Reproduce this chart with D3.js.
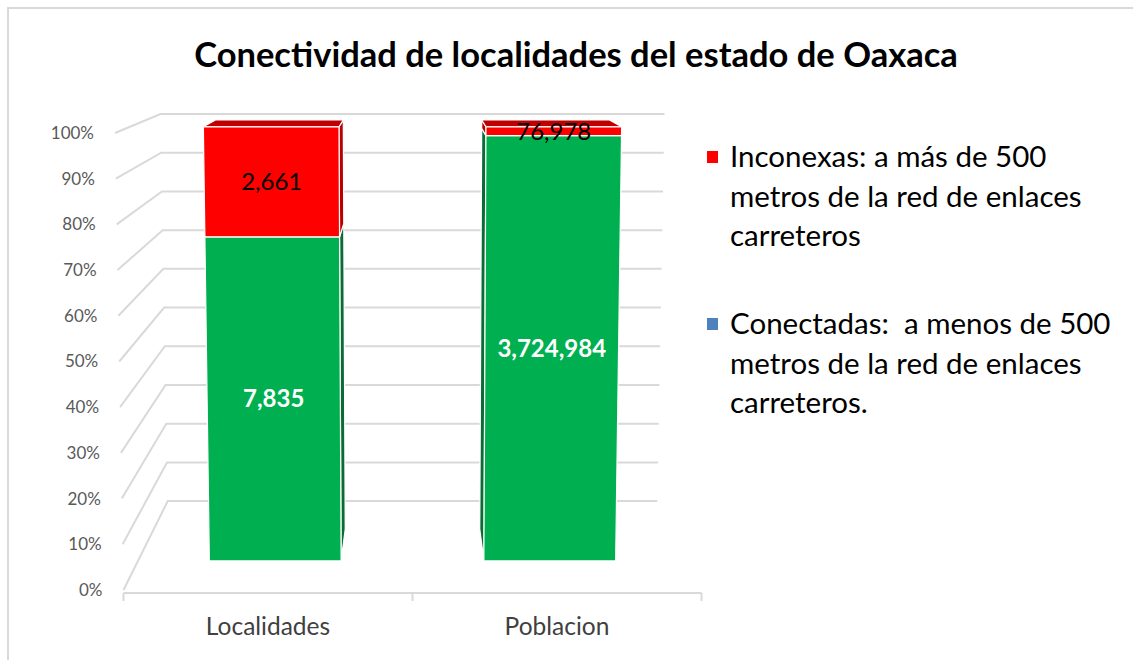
<!DOCTYPE html>
<html>
<head>
<meta charset="utf-8">
<script src="https://cdn.jsdelivr.net/npm/d3@7"></script>
<style>
  body { margin: 0; background: #fff; }
  svg { display: block; font-family: Lato, "Open Sans", sans-serif; }
</style>
</head>
<body>
<div id="chart"></div>
<script>
const categories = ["Localidades", "Poblacion"];
const conectadas = [7835, 3724984];
const inconexas = [2661, 76978];
const percentTicks = [0, 0.1, 0.2, 0.3, 0.4, 0.5, 0.6, 0.7, 0.8, 0.9, 1];
const legendInconexas = ["Inconexas: a más de 500", "metros de la red de enlaces", "carreteros"];
const legendConectadas = ["Conectadas:  a menos de 500", "metros de la red de enlaces", "carreteros."];
const titleText = "Conectividad de localidades del estado de Oaxaca";

const width = 1133, height = 660;
const gridColor = "#d9d9d9";

const series = [
  { key: "conectadas", front: "#00b050", side: "#0b6b34", top: "#008a3e", label: "#fff", bold: true },
  { key: "inconexas", front: "#ff0000", side: "#b80000", top: "#c00000", label: "#000", bold: false },
];

const table = categories.map((c, i) => ({
  category: c,
  conectadas: conectadas[i],
  inconexas: inconexas[i],
}));
const stacked = d3.stack()
  .keys(series.map((d) => d.key))
  .offset(d3.stackOffsetExpand)(table);

// front plane: u across categories, p = share
const x = d3.scaleBand().domain(categories).range([0, 1])
  .paddingInner(0.52).paddingOuter(0.26);
const y = d3.scaleLinear().domain([0, 1]).range([590, 133]);
const halfW = d3.scaleLinear().domain([0, 1]).range([289, 297.5]);
const depth = d3.scaleLinear().domain([0, 1]).range([1, 0.847]);
const cx = 412.5;
const vanish = [412.5, 9];
const barDepth = [0.327, 0.686];

function project(u, p, z) {
  const fx = cx + (u - 0.5) * 2 * halfW(p);
  const fy = y(p);
  const s = depth(z);
  return [vanish[0] + (fx - vanish[0]) * s, vanish[1] + (fy - vanish[1]) * s];
}
const poly = (pts) => "M" + pts.map((p) => p.join(",")).join("L") + "Z";

const svg = d3.select("#chart").append("svg")
  .attr("width", width).attr("height", height)
  .attr("viewBox", [0, 0, width, height]);

// frame (top and left edges only are in view)
svg.append("path")
  .attr("d", `M8,${height}V8H${width}`)
  .attr("fill", "none").attr("stroke", gridColor).attr("stroke-width", 2);

svg.append("text")
  .attr("x", 576).attr("y", 67)
  .attr("text-anchor", "middle")
  .attr("font-weight", 700).attr("font-size", 34.5)
  .attr("fill", "#000")
  .text(titleText);

// walls gridlines
const gGrid = svg.append("g")
  .attr("fill", "none").attr("stroke", gridColor).attr("stroke-width", 2);
gGrid.selectAll("path").data(percentTicks).join("path")
  .attr("d", (p) => "M" + [project(0, p, 0), project(0, p, 1), project(1, p, 1)]
    .map((q) => q.join(",")).join("L"));

svg.append("g").selectAll("text").data(percentTicks).join("text")
  .attr("x", (p) => project(0, p, 0)[0] - 21)
  .attr("y", (p) => project(0, p, 0)[1])
  .attr("dy", "0.35em")
  .attr("text-anchor", "end")
  .attr("font-size", 17).attr("fill", "#595959")
  .text(d3.format(".0%"));

// category axis
const axisOff = 3;
const a0 = project(0, 0, 0), a1 = project(1, 0, 0);
const gAxis = svg.append("g").attr("stroke", gridColor).attr("stroke-width", 2);
gAxis.append("line")
  .attr("x1", a0[0]).attr("x2", a1[0])
  .attr("y1", a0[1] + axisOff).attr("y2", a1[1] + axisOff);
gAxis.selectAll(".tick").data([0, 0.5, 1]).join("line")
  .attr("class", "tick")
  .attr("x1", (u) => project(u, 0, 0)[0]).attr("x2", (u) => project(u, 0, 0)[0])
  .attr("y1", a0[1] + axisOff).attr("y2", a0[1] + axisOff + 8);

svg.append("g").selectAll("text").data(categories).join("text")
  .attr("x", (c) => project(x(c) + x.bandwidth() / 2, 0, 0)[0])
  .attr("y", a0[1] + 36)
  .attr("dy", "0.35em")
  .attr("text-anchor", "middle")
  .attr("font-size", 24.5).attr("fill", "#404040")
  .text((c) => c);

// bars
const gBars = svg.append("g").attr("stroke", "#fff").attr("stroke-width", 1.2)
  .attr("stroke-linejoin", "round");
const [zF, zB] = barDepth;
stacked.forEach((layer, li) => {
  const s = series[li];
  layer.forEach((d, i) => {
    const c = categories[i];
    const u0 = x(c), u1 = x(c) + x.bandwidth();
    const [p0, p1] = d;
    const sideU = (u0 + u1) / 2 < 0.5 ? u1 : u0;
    gBars.append("path")
      .attr("d", poly([project(sideU, p0, zF), project(sideU, p1, zF), project(sideU, p1, zB), project(sideU, p0, zB)]))
      .attr("fill", s.side);
    if (li === stacked.length - 1) {
      gBars.append("path")
        .attr("d", poly([project(u0, p1, zF), project(u1, p1, zF), project(u1, p1, zB), project(u0, p1, zB)]))
        .attr("fill", s.top);
    }
    gBars.append("path")
      .attr("d", poly([project(u0, p0, zF), project(u1, p0, zF), project(u1, p1, zF), project(u0, p1, zF)]))
      .attr("fill", s.front);
  });
});

// data labels
const gLabels = svg.append("g").attr("text-anchor", "middle").attr("font-size", 24);
stacked.forEach((layer, li) => {
  const s = series[li];
  gLabels.selectAll(null).data(layer).join("text")
    .attr("x", (d) => project(x(d.data.category) + x.bandwidth() / 2, (d[0] + d[1]) / 2, zF)[0])
    .attr("y", (d) => project(x(d.data.category) + x.bandwidth() / 2, (d[0] + d[1]) / 2, zF)[1])
    .attr("dy", "0.35em")
    .attr("fill", s.label)
    .attr("font-weight", s.bold ? 700 : 400)
    .text((d) => d3.format(",")(d.data[s.key]));
});

// legend
const legendItems = [
  { lines: legendInconexas, color: "#ff0000", y: 157 },
  { lines: legendConectadas, color: "#4f81bd", y: 324 },
];
const gLegend = svg.append("g").selectAll("g").data(legendItems).join("g")
  .attr("transform", (d) => `translate(707,${d.y})`);
gLegend.append("rect")
  .attr("x", 0).attr("y", -6).attr("width", 11).attr("height", 12)
  .attr("fill", (d) => d.color);
gLegend.append("text")
  .attr("font-size", 29.5).attr("fill", "#000")
  .style("white-space", "pre")
  .selectAll("tspan").data((d) => d.lines).join("tspan")
  .attr("x", 23).attr("y", (d, i) => i * 39.5)
  .attr("dy", "0.35em")
  .text((d) => d);
</script>
</body>
</html>
